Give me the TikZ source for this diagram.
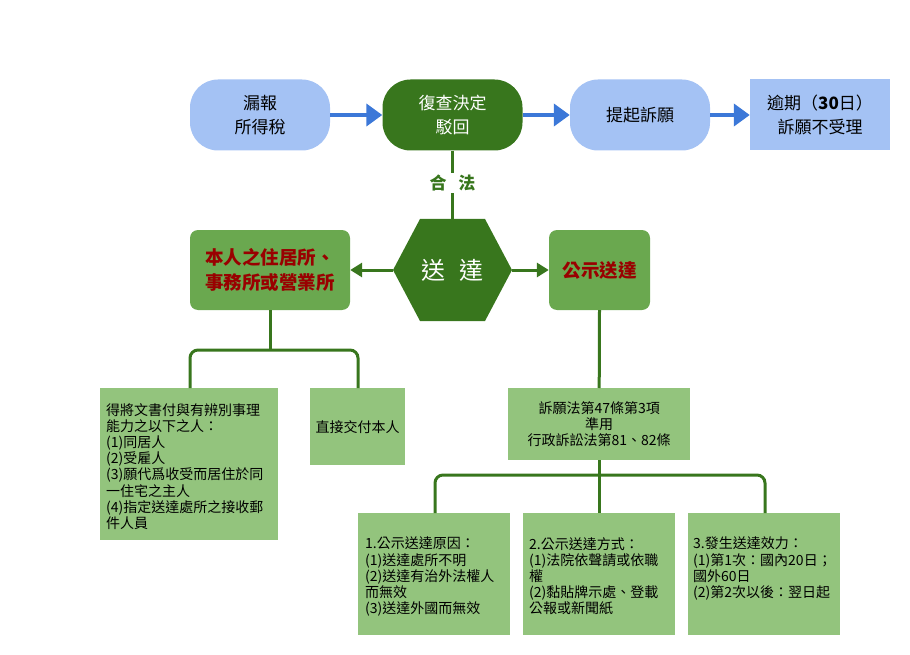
\documentclass[tikz,border=0pt]{standalone}
\usepackage{fontspec}
\setmainfont{Noto Sans CJK TC}
\usetikzlibrary{arrows.meta,shapes.geometric}
\definecolor{lblue}{HTML}{A4C2F4}
\definecolor{ablue}{HTML}{3C78D8}
\definecolor{dgreen}{HTML}{38761D}
\definecolor{mgreen}{HTML}{6AA84F}
\definecolor{lgreen}{HTML}{93C47D}
\definecolor{dred}{HTML}{990000}
\tikzset{
  stadium/.style={draw=none,fill=lblue,rounded corners=28pt,minimum width=140pt,minimum height=71pt,align=center,font=\fontsize{17}{24}\selectfont,inner sep=0pt},
  bluearrow/.style={draw=ablue,line width=4.5pt,-{Triangle[length=16pt,width=22pt]}},
  greenline/.style={draw=dgreen,line width=3pt},
  greenarrow/.style={draw=dgreen,line width=3pt,-{Triangle[length=12pt,width=14pt]}},
  midbox/.style={fill=mgreen,rounded corners=8pt,align=center,font=\bfseries\fontsize{18.5}{25}\selectfont,text=dred,inner sep=0pt},
  smallbox/.style={fill=lgreen,inner sep=0pt},
  smalltext/.style={font=\fontsize{14}{16.2}\selectfont,inner sep=0pt},
}
\begin{document}
\begin{tikzpicture}[x=1pt,y=-1pt]
\useasboundingbox (0,0) rectangle (910,655);
% top row
\node[stadium] (a) at (260,115) {漏報\\所得稅};
\node[stadium,fill=dgreen,text=white] (b) at (452.5,115) {復查決定\\駁回};
\node[stadium] (c) at (640,115) {提起訴願};
\node[fill=lblue,minimum width=140pt,minimum height=71pt,align=center,font=\fontsize{17}{24}\selectfont,inner sep=0pt] (d) at (820,115) {逾期（\textbf{30}日）\\訴願不受理};
\draw[bluearrow] (a.east) -- (b.west);
\draw[bluearrow] (b.east) -- (c.west);
\draw[bluearrow] (c.east) -- (d.west);
% hexagon
\coordinate (hl) at (393,270);
\coordinate (hr) at (512,270);
\coordinate (htop) at (452.5,219);
\fill[dgreen] (hl) -- (420,219) -- (485,219) -- (hr) -- (485,321) -- (420,321) -- cycle;
\node[text=white,font=\fontsize{24}{26}\selectfont] (ht) at (452.5,270) {送\hspace{0.6em}達};
\node[text=dgreen,font=\bfseries\fontsize{17}{18}\selectfont,inner sep=2pt] (lg) at (452.5,183) {合\hspace{0.7em}法};
\draw[greenline] (b.south) -- (lg.north);
\draw[greenline] (lg.south) -- (htop);
% mid boxes
\node[midbox,minimum width=160pt,minimum height=80pt] (l) at (270,270) {本人之住居所、\\事務所或營業所};
\node[midbox,minimum width=101pt,minimum height=80pt] (r) at (599.5,270) {公示送達};
\draw[greenarrow] (hl) -- (l.east);
\draw[greenarrow] (hr) -- (r.west);
% left branch
\node[smallbox,minimum width=178pt,minimum height=152pt,anchor=north west] (l1) at (100,388) {};
\node[smalltext,align=left,anchor=north west] (l1t) at (106,403) {得將文書付與有辨別事理\\能力之以下之人：\\(1)同居人\\(2)受雇人\\(3)願代爲收受而居住於同\\一住宅之主人\\(4)指定送達處所之接收郵\\件人員};
\node[smallbox,minimum width=95pt,minimum height=77pt,anchor=north west] (l2) at (310,388) {};
\node[smalltext] (l2t) at (l2.center) {直接交付本人};
\coordinate (lj) at (270,350);
\coordinate (lx1) at (190,350);
\coordinate (lx2) at (358,350);
\draw[greenline] (l.south) -- (lj);
\draw[greenline,rounded corners=8pt] (lx1 |- l1.north) -- (lx1) -- (lx2) -- (lx2 |- l2.north);
% right branch
\node[smallbox,minimum width=182pt,minimum height=72pt,anchor=north west] (r0) at (508,388) {};
\node[smalltext,align=center] (r0t) at (r0.center) {訴願法第47條第3項\\準用\\行政訴訟法第81、82條};
\draw[greenline] (r.south) -- (r0.north);
\node[smallbox,minimum width=152pt,minimum height=122pt,anchor=north west] (s1) at (358,513) {};
\node[smallbox,minimum width=152pt,minimum height=122pt,anchor=north west] (s2) at (523,513) {};
\node[smallbox,minimum width=152pt,minimum height=122pt,anchor=north west] (s3) at (688,513) {};
\node[smalltext,align=left,anchor=north west] (s1t) at (365,537) {1.公示送達原因：\\(1)送達處所不明\\(2)送達有治外法權人\\而無效\\(3)送達外國而無效};
\node[smalltext,align=left,anchor=north west] (s2t) at (529,537) {2.公示送達方式：\\(1)法院依聲請或依職\\權\\(2)黏貼牌示處、登載\\公報或新聞紙};
\node[smalltext,align=left,anchor=north west] (s3t) at (693,537) {3.發生送達效力：\\(1)第1次：國內20日；\\國外60日\\(2)第2次以後：翌日起};
\coordinate (rx1) at (435,475);
\coordinate (rx2) at (765,475);
\draw[greenline] (r0.south) -- (s2.north);
\draw[greenline,rounded corners=8pt] (rx1 |- s1.north) -- (rx1) -- (rx2) -- (rx2 |- s3.north);
\end{tikzpicture}
\end{document}
